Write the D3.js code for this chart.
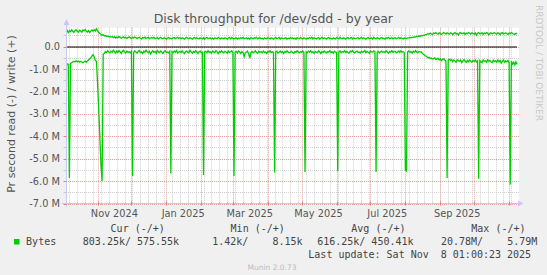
<!DOCTYPE html>
<html>
<head>
<meta charset="utf-8">
<title>Disk throughput for /dev/sdd - by year</title>
<script src="https://cdn.jsdelivr.net/npm/d3@7"></script>
<style>
  html, body { margin: 0; padding: 0; background: #f0f0f0; }
  svg { display: block; font-family: "DejaVu Sans", sans-serif; }
  .mono { font-family: "DejaVu Sans Mono", monospace; }
</style>
</head>
<body>
<svg id="chart" width="547" height="275"></svg>
<script>
// one value per day, first day below, values in kB/s
const startDate = "2024-10-04T01:00:00Z";

// read (-), plotted below zero
const readK = [
  780, 770, 790, 5860, 760, 720, 680, 660, 670, 640, 680, 650, 700, 660, 690, 720, 680, 650, 700, 640,
  600, 560, 500, 420, 360, 470, 620, 660, 1650, 2820, 4000, 5280, 6000, 350, 300, 220, 270, 190, 240, 280,
  210, 250, 160, 230, 300, 200, 260, 180, 240, 310, 220, 170, 250, 290, 200, 260, 230, 280, 210, 5770,
  260, 190, 240, 300, 220, 180, 270, 240, 310, 200, 250, 160, 230, 280, 210, 330, 240, 190, 260, 220,
  300, 180, 240, 270, 200, 250, 310, 220, 190, 260, 240, 280, 210, 5660, 230, 270, 200, 250, 180, 290,
  240, 210, 270, 190, 260, 320, 230, 200, 250, 280, 170, 240, 300, 220, 260, 190, 240, 310, 230, 200,
  270, 250, 5730, 240, 210, 280, 190, 260, 230, 300, 200, 250, 270, 180, 240, 320, 220, 260, 190, 250,
  280, 210, 240, 300, 200, 260, 230, 190, 270, 5770, 250, 220, 290, 200, 240, 310, 230, 260, 450, 280,
  240, 200, 330, 520, 260, 220, 280, 240, 190, 270, 300, 210, 250, 230, 280, 200, 260, 240, 310, 220,
  250, 190, 270, 230, 260, 5620, 240, 210, 290, 250, 200, 270, 230, 310, 220, 260, 190, 250, 280, 240,
  210, 270, 300, 220, 260, 190, 240, 280, 230, 250, 200, 260, 5590, 240, 280, 210, 250, 190, 270, 230,
  300, 220, 250, 270, 190, 240, 310, 230, 260, 200, 250, 280, 220, 240, 190, 270, 230, 300, 210, 250,
  260, 5560, 240, 200, 280, 230, 250, 190, 270, 220, 260, 300, 210, 240, 180, 250, 280, 230, 200, 260,
  240, 290, 210, 250, 230, 180, 270, 220, 260, 300, 200, 240, 250, 190, 230, 5590, 260, 220, 280, 240,
  200, 250, 230, 270, 190, 240, 300, 220, 250, 180, 260, 230, 210, 280, 240, 200, 260, 190, 250, 230,
  270, 5500, 5550, 240, 200, 260, 230, 290, 210, 250, 180, 240, 270, 220, 250, 230, 300, 340, 380, 420,
  460, 500, 480, 530, 510, 560, 540, 500, 580, 560, 520, 600, 550, 630, 580, 540, 600, 650, 5860, 600,
  560, 620, 580, 680, 600, 640, 700, 590, 620, 660, 600, 720, 640, 580, 660, 700, 620, 680, 600, 650,
  700, 620, 660, 600, 690, 640, 5900, 620, 680, 720, 600, 660, 640, 700, 590, 650, 620, 690, 720, 610,
  660, 640, 700, 600, 680, 620, 740, 660, 600, 700, 640, 680, 620, 720, 6150, 650, 780, 700, 820, 680,
  803
];

// write (+), plotted above zero
const writeK = [
  650, 720, 620, 710, 660, 740, 680, 630, 720, 750, 680, 640, 730, 690, 640, 740, 700, 760, 680, 640,
  710, 620, 690, 740, 680, 750, 700, 790, 700, 620, 580, 540, 500, 520, 470, 490, 450, 470, 430, 440,
  420, 450, 400, 430, 380, 420, 390, 440, 410, 370, 400, 430, 380, 410, 360, 400, 430, 390, 350, 410,
  380, 420, 400, 350, 390, 410, 370, 340, 400, 380, 420, 360, 390, 410, 350, 380, 400, 370, 410, 350,
  370, 400, 340, 380, 410, 360, 350, 390, 370, 330, 380, 400, 350, 370, 340, 390, 400, 350, 380, 410,
  360, 400, 340, 390, 370, 330, 380, 410, 360, 350, 390, 370, 330, 380, 400, 350, 390, 360, 340, 390,
  370, 340, 400, 330, 380, 410, 350, 370, 390, 340, 380, 330, 390, 370, 350, 410, 370, 340, 390, 360,
  350, 390, 370, 330, 380, 400, 350, 410, 360, 340, 370, 390, 330, 380, 350, 400, 360, 410, 350, 370,
  390, 340, 380, 330, 400, 360, 350, 390, 370, 410, 340, 380, 390, 350, 370, 330, 390, 360, 350, 400,
  370, 340, 390, 370, 330, 380, 400, 350, 370, 410, 340, 390, 360, 350, 380, 390, 330, 370, 350, 400,
  360, 390, 340, 380, 330, 400, 370, 350, 410, 360, 340, 390, 370, 330, 380, 350, 400, 360, 410, 340,
  390, 370, 340, 380, 400, 330, 370, 410, 350, 390, 360, 340, 380, 400, 350, 370, 330, 390, 360, 340,
  400, 370, 340, 410, 360, 350, 390, 370, 330, 380, 400, 350, 370, 410, 340, 390, 360, 350, 380, 400,
  340, 370, 410, 350, 390, 360, 330, 380, 400, 350, 370, 390, 340, 410, 360, 350, 390, 370, 340, 380,
  400, 350, 370, 330, 390, 370, 410, 350, 360, 400, 340, 380, 390, 350, 370, 410, 350, 390, 370, 340,
  380, 370, 360, 380, 390, 400, 410, 400, 420, 430, 420, 450, 440, 470, 460, 490, 480, 510, 500, 530,
  540, 580, 550, 600, 570, 530, 600, 580, 620, 570, 550, 610, 590, 540, 580, 620, 590, 550, 610, 580,
  550, 610, 590, 530, 590, 620, 560, 590, 510, 600, 620, 570, 590, 610, 540, 600, 570, 620, 590, 550,
  610, 580, 550, 610, 500, 590, 620, 560, 590, 610, 540, 600, 570, 620, 590, 520, 590, 610, 560, 600,
  620, 580, 550, 610, 590, 530, 600, 620, 560, 590, 610, 580, 540, 600, 570, 620, 590, 560, 540, 590,
  576
];

const yMajorM = [0, -1, -2, -3, -4, -5, -6, -7];
const yMinorM = [0.5, -0.5, -1.5, -2.5, -3.5, -4.5, -5.5, -6.5];
const monthLabels = ["Nov 2024", "Jan 2025", "Mar 2025", "May 2025", "Jul 2025", "Sep 2025"];
const legendHeads = ["Cur (-/+)", "Min (-/+)", "Avg (-/+)", "Max (-/+)"];
const legendVals = ["803.25k/ 575.55k", "1.42k/    8.15k", "616.25k/ 450.41k", "20.78M/    5.79M"];
const seriesName = "Bytes";
const lastUpdate = "Last update: Sat Nov  8 01:00:23 2025";

const svg = d3.select("#chart");
const green = "#00cc00";
const pLeft = 66, pRight = 519, pTop = 27.7, pBottom = 203.5;
const keepSpaces = s => s.replace(/ /g, "\u00a0");

const t0 = new Date(startDate);
const t1 = d3.utcDay.offset(t0, readK.length - 1);
const x = d3.scaleUtc().domain([t0, t1]).range([66, 517]);
const y = d3.scaleLinear().domain([-7e6, 0.84e6]).range([pBottom, pTop]);
const px = v => Math.round(v) + 0.5;

// canvas
svg.append("rect").attr("x", pLeft).attr("y", pTop)
  .attr("width", pRight - pLeft).attr("height", pBottom - pTop).attr("fill", "#fff");

const grid = svg.append("g").attr("stroke-width", 1).attr("stroke-dasharray", "1,1");

// minor grid: weeks and half millions
grid.selectAll(".wk").data(d3.utcMonday.range(t0, t1)).join("line")
  .attr("x1", d => px(x(d))).attr("x2", d => px(x(d)))
  .attr("y1", pTop).attr("y2", pBottom).attr("stroke", "#cfcfcf");
grid.selectAll(".hm").data(yMinorM).join("line")
  .attr("x1", pLeft).attr("x2", pRight)
  .attr("y1", d => px(y(d * 1e6))).attr("y2", d => px(y(d * 1e6))).attr("stroke", "#cfcfcf");

// major grid: months and millions
const months = d3.utcMonth.range(t0, t1);
grid.selectAll(".mo").data(months).join("line")
  .attr("x1", d => px(x(d))).attr("x2", d => px(x(d)))
  .attr("y1", pTop).attr("y2", pBottom).attr("stroke", "#e8a0a0");
grid.selectAll(".mm").data(yMajorM).join("line")
  .attr("x1", pLeft).attr("x2", pRight)
  .attr("y1", d => px(y(d * 1e6))).attr("y2", d => px(y(d * 1e6))).attr("stroke", "#e8a0a0");

// data
const line = d3.line().x((d, i) => x(d3.utcDay.offset(t0, i)));
svg.append("path").datum(writeK)
  .attr("d", line.y(d => y(d * 1000)))
  .attr("fill", "none").attr("stroke", green).attr("stroke-width", 1.3);
svg.append("path").datum(readK)
  .attr("d", line.y(d => y(-d * 1000)))
  .attr("fill", "none").attr("stroke", green).attr("stroke-width", 1.3);

// zero rule
svg.append("line").attr("x1", pLeft).attr("x2", 517)
  .attr("y1", px(y(0)) - 0.5).attr("y2", px(y(0)) - 0.5)
  .attr("stroke", "#000").attr("stroke-width", 1);

// axes with arrows
const axisCol = "#c8c8f8";
svg.append("line").attr("x1", 62).attr("x2", 519).attr("y1", pBottom).attr("y2", pBottom)
  .attr("stroke", axisCol);
svg.append("path").attr("d", `M518,${pBottom - 3}L523.5,${pBottom}L518,${pBottom + 3}Z`).attr("fill", axisCol);
svg.append("line").attr("x1", 66.5).attr("x2", 66.5).attr("y1", pBottom + 3).attr("y2", 24)
  .attr("stroke", axisCol);
svg.append("path").attr("d", "M63.5,25L66.5,19L69.5,25Z").attr("fill", axisCol);

// axis ticks
svg.append("g").selectAll("line").data(d3.utcMonday.range(t0, t1)).join("line")
  .attr("x1", d => px(x(d))).attr("x2", d => px(x(d)))
  .attr("y1", pBottom - 1.5).attr("y2", pBottom + 1.5).attr("stroke", "#c8c8c8");
svg.append("g").selectAll("line").data(months).join("line")
  .attr("x1", d => px(x(d))).attr("x2", d => px(x(d)))
  .attr("y1", pBottom - 2).attr("y2", pBottom + 2).attr("stroke", "#e08080");
svg.append("g").selectAll("line").data(yMajorM.concat(yMinorM)).join("line")
  .attr("x1", 63.5).attr("x2", 66.5)
  .attr("y1", d => px(y(d * 1e6))).attr("y2", d => px(y(d * 1e6)))
  .attr("stroke", d => Number.isInteger(d) ? "#e08080" : "#c8c8c8");

// tick labels
const textCol = "#555";
svg.append("g").attr("font-size", 9.8).attr("fill", textCol).attr("text-anchor", "end")
  .selectAll("text").data(yMajorM).join("text")
  .attr("x", 60).attr("y", d => y(d * 1e6) + 3.6)
  .text(d => d === 0 ? "0.0" : d.toFixed(1) + " M");

const parseMonth = d3.utcParse("%b %Y");
svg.append("g").attr("font-size", 9.8).attr("fill", textCol).attr("text-anchor", "middle")
  .selectAll("text").data(monthLabels).join("text")
  .attr("x", d => x(d3.utcDay.offset(parseMonth(d), 15)))
  .attr("y", 216.8)
  .text(d => d);

// titles
svg.append("text").attr("x", 273.3).attr("y", 23.4).attr("text-anchor", "middle")
  .attr("font-size", 12.5).attr("fill", textCol)
  .text("Disk throughput for /dev/sdd - by year");
svg.append("text").attr("transform", "translate(15,114) rotate(-90)").attr("text-anchor", "middle")
  .attr("font-size", 11).attr("fill", textCol)
  .text("Pr second read (-) / write (+)");
svg.append("text").attr("transform", "translate(535.5,5) rotate(90)")
  .attr("font-size", 9).attr("fill", "#c8c8c8")
  .text("RRDTOOL / TOBI OETIKER");

// legend
const legCols = [110.6, 230.6, 351.3, 471.3];
const valCols = [82.8, 212.2, 317.2, 441];
const leg = svg.append("g").attr("class", "mono").attr("font-size", 10).attr("fill", "#444");
leg.selectAll(".hd").data(legendHeads).join("text")
  .attr("x", (d, i) => legCols[i]).attr("y", 232.1).text(d => keepSpaces(d));
leg.selectAll(".vl").data(legendVals).join("text")
  .attr("x", (d, i) => valCols[i]).attr("y", 245.3).text(d => keepSpaces(d));
leg.append("text").attr("x", 26.1).attr("y", 245.3).text(seriesName);
leg.append("text").attr("x", 531.1).attr("y", 257.5).attr("text-anchor", "end")
  .text(keepSpaces(lastUpdate));
svg.append("rect").attr("x", 14).attr("y", 239).attr("width", 5.5).attr("height", 5.5)
  .attr("fill", green);

svg.append("text").attr("x", 272).attr("y", 269.5).attr("text-anchor", "middle")
  .attr("font-size", 7.5).attr("fill", "#bbb").text("Munin 2.0.73");
</script>
</body>
</html>
